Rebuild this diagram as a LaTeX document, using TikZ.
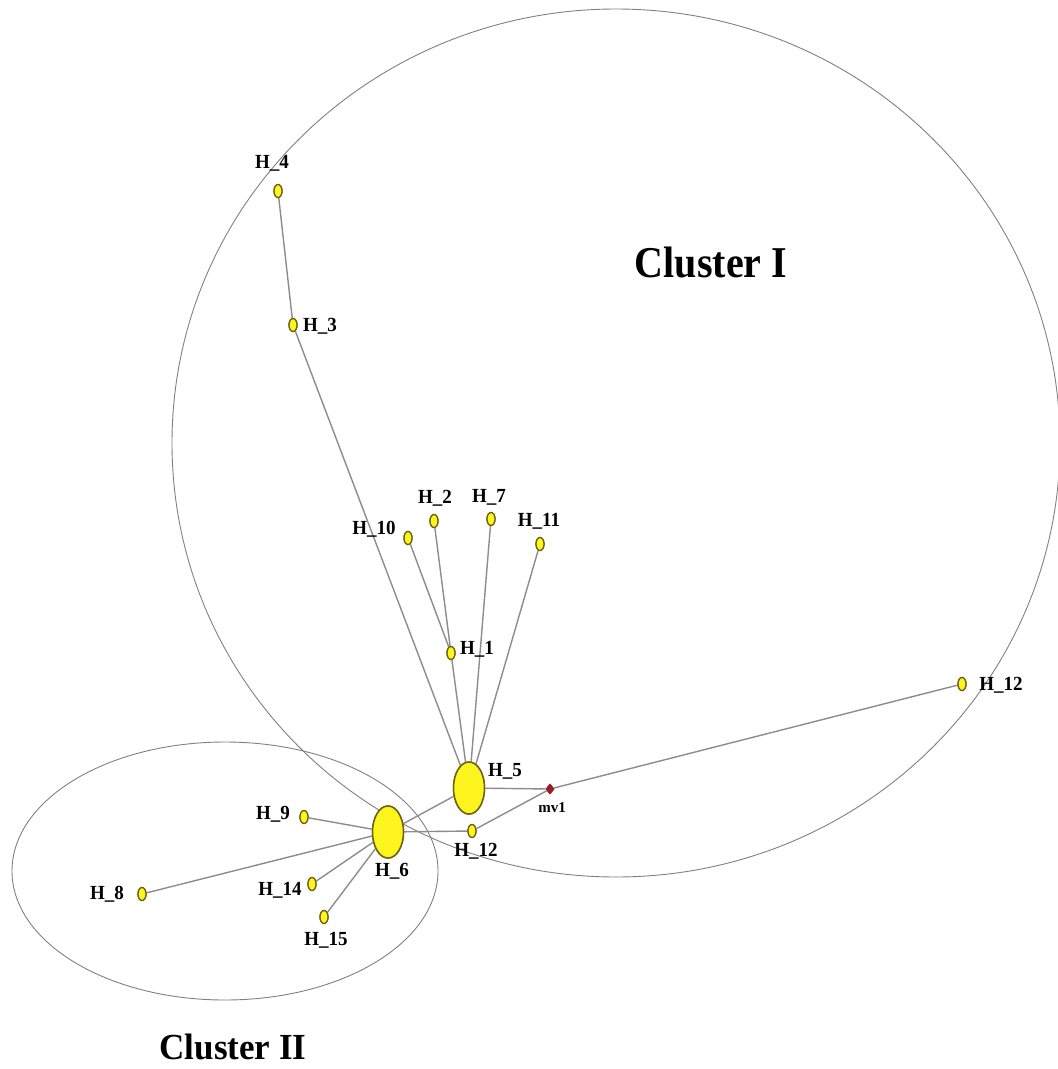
\documentclass[tikz,border=0pt]{standalone}
\usepackage{fontspec}
\setmainfont{Liberation Serif}
\usetikzlibrary{shapes.geometric}
\definecolor{hapfill}{RGB}{255,245,30}
\definecolor{hapdraw}{RGB}{110,100,20}
\definecolor{edgegray}{RGB}{140,140,140}
\definecolor{mvred}{RGB}{150,30,40}
\tikzset{
  hap/.style={ellipse,draw=hapdraw,fill=hapfill,line width=1.3pt,inner sep=0pt,minimum width=8pt,minimum height=13pt},
  bighap/.style={ellipse,draw=hapdraw,fill=hapfill,line width=1.5pt,inner sep=0pt,minimum width=31pt,minimum height=52pt},
  mv/.style={diamond,fill=mvred,inner sep=0pt,minimum width=9pt,minimum height=11pt},
  lab/.style={font=\fontsize{20}{24}\selectfont\bfseries,inner sep=0pt,xscale=0.95},
  mvlab/.style={font=\fontsize{15}{18}\selectfont\bfseries,inner sep=0pt},
  clab/.style={font=\fontsize{40}{48}\selectfont\bfseries,inner sep=0pt,yscale=1.1},
  clabb/.style={font=\fontsize{35}{42}\selectfont\bfseries,inner sep=0pt,yscale=1.05},
  edge/.style={draw=edgegray,line width=1.4pt},
  cluster/.style={draw=gray,line width=0.9pt}
}
\begin{document}
\begin{tikzpicture}[x=1pt,y=-1pt]
\useasboundingbox (0,0) rectangle (1058,1069);
% clusters
\draw[cluster] (616,443) ellipse [x radius=444, y radius=434];
\draw[cluster] (225,871) ellipse [x radius=213, y radius=129];
% nodes
\node[hap] (h4) at (278,191) {};
\node[hap] (h3) at (293,325) {};
\node[hap] (h10) at (408,538) {};
\node[hap] (h2) at (434,521) {};
\node[hap] (h7) at (491,519) {};
\node[hap] (h11) at (540,544) {};
\node[hap] (h1) at (451,653) {};
\node[bighap] (h5) at (469,788) {};
\node[mv] (mv1) at (550,789) {};
\node[hap] (h12a) at (962,684) {};
\node[hap] (h12b) at (472,831) {};
\node[bighap] (h6) at (388,832) {};
\node[hap] (h9) at (304,817) {};
\node[hap] (h8) at (142,894) {};
\node[hap] (h14) at (312,884) {};
\node[hap] (h15) at (324,917) {};
% edges
\draw[edge] (h4) -- (h3);
\draw[edge] (h3) -- (h5);
\draw[edge] (h10) -- (h1);
\draw[edge] (h2) -- (h1);
\draw[edge] (h1) -- (h5);
\draw[edge] (h7) -- (h5);
\draw[edge] (h11) -- (h5);
\draw[edge] (h5) -- (mv1);
\draw[edge] (mv1) -- (h12a);
\draw[edge] (mv1) -- (h12b);
\draw[edge] (h5) -- (h6);
\draw[edge] (h6) -- (h12b);
\draw[edge] (h6) -- (h9);
\draw[edge] (h6) -- (h8);
\draw[edge] (h6) -- (h14);
\draw[edge] (h6) -- (h15);
% redraw nodes on top
\node[hap] at (h4) {};
\node[hap] at (h3) {};
\node[hap] at (h10) {};
\node[hap] at (h2) {};
\node[hap] at (h7) {};
\node[hap] at (h11) {};
\node[hap] at (h1) {};
\node[bighap] at (h5) {};
\node[mv] at (mv1) {};
\node[hap] at (h12a) {};
\node[hap] at (h12b) {};
\node[bighap] at (h6) {};
\node[hap] at (h9) {};
\node[hap] at (h8) {};
\node[hap] at (h14) {};
\node[hap] at (h15) {};
% labels
\node[lab] (l4) at (272,163) {H\_4};
\node[lab] (l3) at (320,326) {H\_3};
\node[lab] (l10) at (374,529) {H\_10};
\node[lab] (l2) at (435,498) {H\_2};
\node[lab] (l7) at (489,497) {H\_7};
\node[lab] (l11) at (539,521) {H\_11};
\node[lab] (l1) at (477,649) {H\_1};
\node[lab] (l5) at (505,771) {H\_5};
\node[mvlab] (lmv) at (552,808) {mv1};
\node[lab] (l12a) at (1001,685) {H\_12};
\node[lab] (l12b) at (476,851) {H\_12};
\node[lab] (l6) at (392,871) {H\_6};
\node[lab] (l9) at (273,814) {H\_9};
\node[lab] (l8) at (107,894) {H\_8};
\node[lab] (l14) at (280,890) {H\_14};
\node[lab] (l15) at (326,940) {H\_15};
\node[clab] (c1) at (711,262) {Cluster I};
\node[clabb] (c2) at (233,1047) {Cluster II};
\end{tikzpicture}
\end{document}
